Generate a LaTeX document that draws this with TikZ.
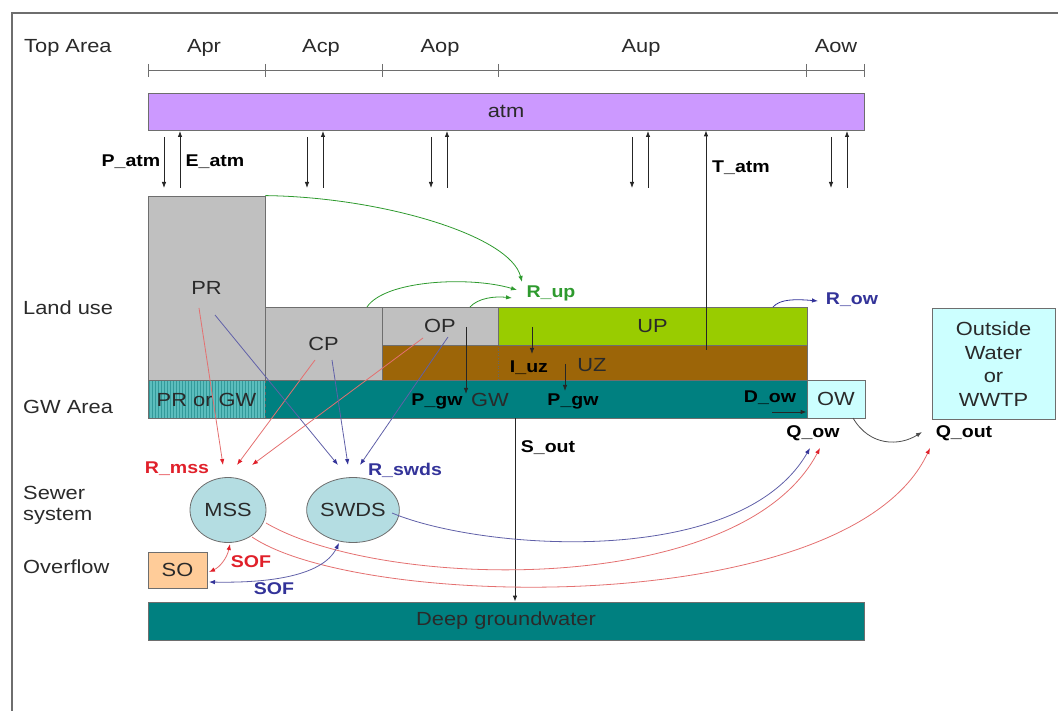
\documentclass[tikz,border=0pt]{standalone}
\usepackage{fontspec}
\setmainfont{Liberation Sans}[FakeStretch=1.15]
\usetikzlibrary{arrows.meta,shapes.geometric}
\definecolor{atmc}{HTML}{CC99FF}
\definecolor{grayc}{HTML}{C0C0C0}
\definecolor{upc}{HTML}{99CC00}
\definecolor{uzc}{HTML}{9C6508}
\definecolor{tealc}{HTML}{008080}
\definecolor{hatchc}{HTML}{5CBDBD}
\definecolor{owc}{HTML}{CCFFFF}
\definecolor{sewc}{HTML}{B4DDE2}
\definecolor{soc}{HTML}{FFCC99}
\definecolor{redc}{HTML}{E0202A}
\definecolor{redl}{HTML}{E47070}
\definecolor{bluec}{HTML}{333399}
\definecolor{bluel}{HTML}{6060A8}
\definecolor{greenc}{HTML}{2E9A2E}
\definecolor{txt}{HTML}{2A2A2A}
\definecolor{edgec}{HTML}{6E6E6E}
\newcommand\fnorm{\fontsize{19}{22}\selectfont}
\newcommand\fbold{\fontsize{17}{20}\selectfont\bfseries}
\tikzset{
  blk/.style={draw=edgec, line width=0.8pt, inner sep=0pt, font=\fnorm, text=txt},
  lab/.style={inner sep=0pt, font=\fnorm, text=txt},
  blab/.style={inner sep=0pt, font=\fbold, text=black},
  tip/.style={-{Latex[length=6pt,width=4.5pt]}},
  flow/.style={tip, line width=0.8pt, draw=black!85},
  gflow/.style={tip, line width=0.8pt, draw=greenc},
  rflow/.style={-{Latex[length=6pt,width=4.5pt,color=redc]}, line width=0.8pt, draw=redl},
  bflow/.style={-{Latex[length=6pt,width=4.5pt,color=bluec]}, line width=0.8pt, draw=bluel},
}
\begin{document}
\begin{tikzpicture}[x=1pt,y=-1pt]
\useasboundingbox (0,0) rectangle (1058,711);
% frame
\draw[line width=1.3pt, edgec] (1058,13) -- (12,13) -- (12,711);

% top labels and scale
\node[lab, anchor=base west] (toparea) at (24,53) {Top Area};
\node[lab, anchor=base] (apr) at (204,53) {Apr};
\node[lab, anchor=base] (acp) at (321,53) {Acp};
\node[lab, anchor=base] (aop) at (440,53) {Aop};
\node[lab, anchor=base] (aup) at (641,53) {Aup};
\node[lab, anchor=base] (aow) at (836,53) {Aow};
\foreach \n/\x in {s0/148,s1/265,s2/382,s3/498,s4/806,s5/864}{
  \coordinate (\n) at (\x,70);
  \draw[edgec, line width=0.8pt] (\x,64) -- (\x,77);
}
\draw[edgec, line width=0.8pt] (s0) -- (s5);

% atm
\node[blk, fill=atmc, minimum width=716pt, minimum height=37pt] (atm) at (506,111.5) {atm};

% land use boxes
\node[blk, fill=grayc, minimum width=117pt, minimum height=184pt] (pr) at (206.5,288) {PR};
\node[blk, fill=grayc, minimum width=117pt, minimum height=73pt] (cp) at (323.5,343.5) {CP};
\node[blk, fill=grayc, minimum width=116pt, minimum height=38pt] (op) at (440,326) {OP};
\node[blk, fill=upc, minimum width=309pt, minimum height=38pt] (up) at (652.5,326) {UP};
\node[blk, fill=uzc, minimum width=425pt, minimum height=35pt] (uz) at (594.5,362.5) {};
\draw[dotted, black!60, line width=0.6pt] (498,345) -- (498,380);
% GW
\node[blk, fill=tealc, minimum width=659pt, minimum height=38pt] (gw) at (477.5,399) {};
\begin{scope}
  \clip (148.4,380.4) rectangle (265,417.6);
  \fill[hatchc] (148,380) rectangle (265,418);
  \foreach \i in {0,...,39} \draw[tealc!80, line width=0.9pt] ({149+3*\i},380) -- ++(0,38);
\end{scope}
\draw[edgec, line width=0.8pt] (148,380) rectangle (807,418);
\draw[dashed, black!60, line width=0.6pt] (265,380) -- (265,418);
\node[lab] (prgw) at (206.5,400) {PR or GW};
\node[blk, fill=owc, minimum width=58pt, minimum height=38pt] (ow) at (836,399) {OW};
\node[blk, fill=owc, minimum width=123pt, minimum height=111pt, align=center, font=\fontsize{19}{23.5}\selectfont] (outside) at (993.5,364) {Outside\\Water\\or\\WWTP};

% deep groundwater
\node[blk, fill=tealc, minimum width=716pt, minimum height=38pt] (deep) at (506,621) {Deep groundwater};

% sewer
\node[blk, ellipse, fill=sewc, minimum width=76pt, minimum height=65pt] (mss) at (228,510) {MSS};
\node[blk, ellipse, fill=sewc, minimum width=77pt, minimum height=65pt] (swds) at (353,510) {SWDS};
\node[blk, fill=soc, minimum width=59pt, minimum height=36pt] (so) at (177.5,570) {SO};

% left labels
\node[lab, anchor=west] (landuse) at (23,308) {Land use};
\node[lab, anchor=west] (gwarea) at (23,407) {GW Area};
\node[lab, anchor=west, align=left] (sewer) at (23,505) {Sewer\\[-1pt]system};
\node[lab, anchor=west] (overflow) at (23,567) {Overflow};

% atmosphere arrows
\foreach \i/\x in {1/164,2/307,3/431,4/632,5/831}{
  \coordinate (dn\i a) at (\x,137);
  \coordinate (dn\i b) at (\x,188);
  \coordinate (up\i a) at ({\x+16},188);
  \coordinate (up\i b) at ({\x+16},131);
  \draw[flow] (dn\i a) -- (dn\i b);
  \draw[flow] (up\i a) -- (up\i b);
}
\coordinate (tatm) at (706,350);
\draw[flow] (tatm) -- (tatm |- atm.south);
\node[blab] (patm) at (131,162) {P\_atm};
\node[blab] (eatm) at (215,162) {E\_atm};
\node[blab] (tatml) at (741,168) {T\_atm};

% surface runoff R_up
\coordinate (rup1) at (522,282);
\coordinate (rup2) at (517,290);
\coordinate (rup3) at (512,298);
\coordinate (cps) at (367,307);
\coordinate (ops) at (470,307);
\draw[gflow] (pr.north east) .. controls (380,197) and (510,235) .. (rup1);
\draw[gflow] (cps) .. controls (385,280) and (470,276) .. (rup2);
\draw[gflow] (ops) .. controls (478,298) and (495,296) .. (rup3);
\node[blab, text=greenc] (rup) at (551,293) {R\_up};

% R_ow
\coordinate (rows) at (773,307);
\coordinate (rowe) at (818,301);
\draw[flow, draw=bluec] (rows) .. controls (780,299) and (795,299) .. (rowe);
\node[blab, text=bluec] (row) at (852,300) {R\_ow};

% internal vertical fluxes
\coordinate (iuza) at (532,327); \coordinate (iuzb) at (532,354);
\draw[flow] (iuza) -- (iuzb);
\coordinate (pg1a) at (466,327); \coordinate (pg1b) at (466,394);
\draw[flow] (pg1a) -- (pg1b);
\coordinate (pg2a) at (565,364); \coordinate (pg2b) at (565,391);
\draw[flow] (pg2a) -- (pg2b);
\coordinate (dowa) at (772,412);
\draw[flow] (dowa) -- (dowa -| ow.west);
\node[blab] (iuz) at (529,368) {I\_uz};
\node[lab] (uzl) at (592,365) {UZ};
\node[blab] (pgw1) at (437,401) {P\_gw};
\node[lab] (gwl) at (490,400) {GW};
\node[blab] (pgw2) at (573,401) {P\_gw};
\node[blab] (dow) at (770,398) {D\_ow};

% S_out
\coordinate (souta) at (515,418);
\draw[flow] (souta) -- (souta |- deep.north);
\node[blab] (sout) at (548,448) {S\_out};

% OW to outside
\coordinate (owb) at (853,418);
\coordinate (qouttip) at (922,432);
\draw[flow, draw=black!70] (owb) .. controls (870,447) and (900,446) .. (qouttip);
\node[blab] (qow) at (813,433) {Q\_ow};
\node[blab] (qout) at (964,433) {Q\_out};

% runoff to sewer systems
\coordinate (r1s) at (199,308); \coordinate (r1e) at (223,465);
\coordinate (r2s) at (315,360); \coordinate (r2e) at (237,465);
\coordinate (r3s) at (423,338); \coordinate (r3e) at (252,465);
\coordinate (b1s) at (215,315); \coordinate (b1e) at (338,465);
\coordinate (b2s) at (332,360); \coordinate (b2e) at (348,465);
\coordinate (b3s) at (448,337); \coordinate (b3e) at (360,465);
\draw[rflow] (r1s) -- (r1e);
\draw[rflow] (r2s) -- (r2e);
\draw[rflow] (r3s) -- (r3e);
\draw[bflow] (b1s) -- (b1e);
\draw[bflow] (b2s) -- (b2e);
\draw[bflow] (b3s) -- (b3e);
\node[blab, text=redc] (rmss) at (177,469) {R\_mss};
\node[blab, text=bluec] (rswds) at (405,470) {R\_swds};

% sewer outflows
\coordinate (qowb) at (810,448);
\coordinate (qowr) at (820,448);
\coordinate (qoutr) at (930,448);
\coordinate (mss1) at (266,523);
\coordinate (mss2) at (252,537);
\coordinate (swds1) at (392,513);
\draw[rflow] (mss1) .. controls (380,590) and (740,600) .. (qowr);
\draw[rflow] (mss2) .. controls (360,610) and (850,620) .. (qoutr);
\draw[bflow] (swds1) .. controls (480,550) and (740,570) .. (qowb);

% overflows
\coordinate (sofr1) at (230,544);
\coordinate (sofr2) at (209,572);
\coordinate (sofb1) at (339,543);
\coordinate (sofb2) at (209,582);
\draw[{Latex[length=6pt,width=4.5pt,color=redc]}-{Latex[length=6pt,width=4.5pt,color=redc]}, line width=0.8pt, draw=redl] (sofr1) .. controls (227,558) and (220,567) .. (sofr2);
\draw[{Latex[length=6pt,width=4.5pt,color=bluec]}-{Latex[length=6pt,width=4.5pt,color=bluec]}, line width=0.8pt, draw=bluel] (sofb1) .. controls (322,578) and (262,583) .. (sofb2);
\node[blab, text=redc] (sofr) at (251,562) {SOF};
\node[blab, text=bluec] (sofb) at (274,589) {SOF};
\end{tikzpicture}
\end{document}
